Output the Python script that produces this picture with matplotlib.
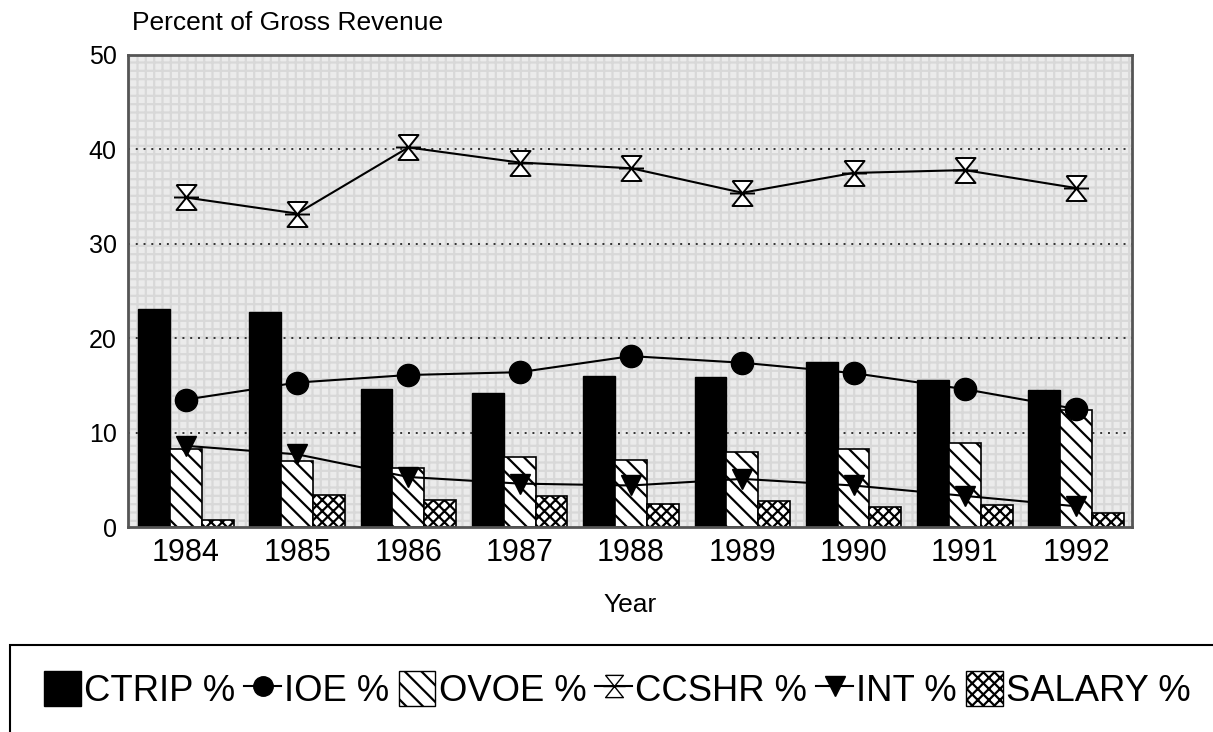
import numpy as np
import matplotlib
matplotlib.use("Agg")
import matplotlib.pyplot as plt
from matplotlib.path import Path
from matplotlib.patches import Rectangle, Patch
from matplotlib.lines import Line2D

plt.rcParams['font.family'] = ['Liberation Sans', 'DejaVu Sans']
plt.rcParams['hatch.linewidth'] = 1.6

years = ['1984', '1985', '1986', '1987', '1988', '1989', '1990', '1991', '1992']
ctrip = [23.1, 22.8, 14.6, 14.2, 16.0, 15.9, 17.5, 15.6, 14.5]
ioe = [13.5, 15.3, 16.1, 16.4, 18.1, 17.4, 16.3, 14.6, 12.5]
ovoe = [8.3, 7.0, 6.3, 7.4, 7.1, 7.9, 8.3, 8.9, 12.4]
ccshr = [34.9, 33.2, 40.2, 38.6, 38.0, 35.4, 37.5, 37.8, 35.9]
int_pct = [8.6, 7.7, 5.3, 4.6, 4.4, 5.1, 4.4, 3.3, 2.2]
salary = [0.7, 3.4, 2.9, 3.3, 2.4, 2.8, 2.1, 2.3, 1.5]

# hourglass marker with a bar across the waist
hourglass = Path(
    [(-0.8, 1), (0.8, 1), (-0.8, -1), (0.8, -1), (-0.8, 1), (-1.0, 0), (1.0, 0)],
    [Path.MOVETO, Path.LINETO, Path.LINETO, Path.LINETO, Path.LINETO,
     Path.MOVETO, Path.LINETO])

fig = plt.figure(figsize=(12.13, 7.32), dpi=100)
ax = fig.add_axes([0.1055, 0.280, 0.8275, 0.645])

x = np.arange(len(years))
w = 0.286

## stippled grey background
ax.set_facecolor('#ebebeb')
ax.add_patch(Rectangle((0, 0), 1, 1, transform=ax.transAxes, facecolor='none',
                       edgecolor='#d8d8d8', hatch='++', linewidth=0, zorder=0))

for yv in [10, 20, 30, 40]:
    ax.axhline(yv, color='#333333', linestyle=(0, (1, 3)), linewidth=1.4, zorder=1)

ax.bar(x - w, ctrip, w, color='black', edgecolor='black', zorder=2)
ax.bar(x, ovoe, w, color='white', edgecolor='black', hatch='\\\\', linewidth=1.2, zorder=2)
ax.bar(x + w, salary, w, color='white', edgecolor='black', hatch='xxx', linewidth=1.2, zorder=2)

ax.plot(x, ioe, color='black', linewidth=1.5, marker='o', markersize=16, zorder=4)
ax.plot(x, ccshr, color='black', linewidth=1.5, marker=hourglass, markersize=18,
        markerfacecolor='white', markeredgecolor='black', markeredgewidth=1.4, zorder=4)
ax.plot(x, int_pct, color='black', linewidth=1.5, marker='v', markersize=15, zorder=4)

ax.set_xlim(-0.52, 8.5)
ax.set_ylim(0, 50)
ax.set_xticks(x)
ax.set_xticklabels(years)
ax.set_yticks([0, 10, 20, 30, 40, 50])
ax.tick_params(axis='x', length=0, labelsize=22, pad=8)
ax.tick_params(axis='y', length=0, labelsize=18, pad=8)
for s in ax.spines.values():
    s.set_color('#555555')
    s.set_linewidth(2)

fig.text(0.109, 0.968, 'Percent of Gross Revenue', fontsize=19, va='center')
ax.set_xlabel('Year', fontsize=19, labelpad=18)

## legend box at the bottom
fig.patches.append(Rectangle((10 / 1213, -0.02), 1.0, 1 - 645 / 732 + 0.02,
                             transform=fig.transFigure,
                             facecolor='white', edgecolor='black', linewidth=1.5))
handles = [
    Patch(facecolor='black', edgecolor='black'),
    Line2D([], [], color='black', marker='o', markersize=14, linewidth=1.5),
    Patch(facecolor='white', edgecolor='black', hatch='\\\\'),
    Line2D([], [], color='black', marker=hourglass, markersize=16, markerfacecolor='white',
           linewidth=1.5),
    Line2D([], [], color='black', marker='v', markersize=14, linewidth=1.5),
    Patch(facecolor='white', edgecolor='black', hatch='xxx'),
]
labels = ['CTRIP %', 'IOE %', 'OVOE %', 'CCSHR %', 'INT %', 'SALARY %']
fig.legend(handles, labels, loc='center left', bbox_to_anchor=(26 / 1213, 1 - 690 / 732),
           ncol=6, frameon=False, fontsize=26.2, handlelength=1.0, handleheight=1.1,
           handletextpad=0.1, columnspacing=0.25, borderpad=0)

fig.savefig('out.png', dpi=100)
